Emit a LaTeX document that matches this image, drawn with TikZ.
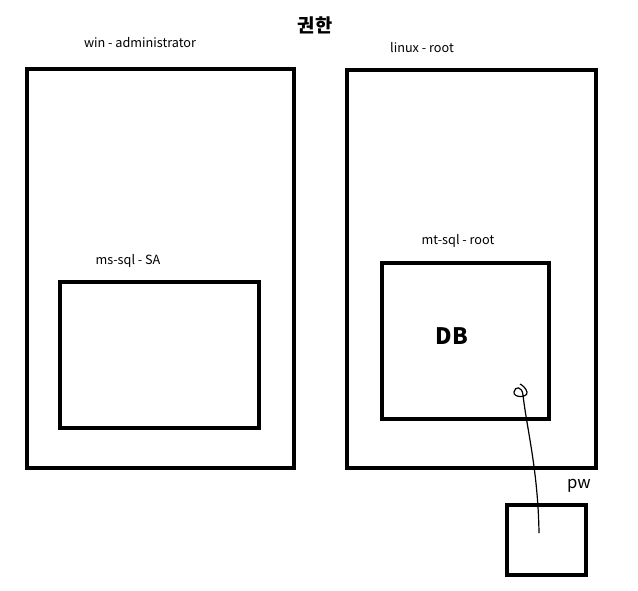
\documentclass[tikz,border=0pt]{standalone}
\usepackage{fontspec}
\setmainfont{Noto Sans CJK KR}
\usetikzlibrary{positioning}
\tikzset{
box/.style={draw, line width=3pt, inner sep=0pt}, % thick black frames
lbl/.style={font=\fontsize{9.5}{11}\selectfont, inner sep=0pt}, % small captions above the frames
}

\begin{document}
\begin{tikzpicture}[x=0.75pt, y=-0.75pt]
    \useasboundingbox (0,0) rectangle (638,590);
    \node[font=\fontsize{14}{16}\selectfont\bfseries, inner sep=0pt] (title) at (315,25) {권한};
    % left machine
    \node[box, minimum width=200.25pt, minimum height=299.25pt] (win) at (160.5,268.5) {};
    \node[box, minimum width=149.25pt, minimum height=109.5pt] (mssql) at (159.5,355) {};
    \node[lbl] (winlbl) at (140,43) {win - administrator};
    \node[lbl] (mssqllbl) at (128,261) {ms-sql - SA};
    % right machine
    \node[box, minimum width=186.75pt, minimum height=298.5pt] (linux) at (471.5,269) {};
    \node[box, minimum width=125.25pt, minimum height=117pt] (mtsql) at (465.5,341) {};
    \node[lbl] (linuxlbl) at (422,48) {linux - root};
    \node[lbl] (mtsqllbl) at (458,241) {mt-sql - root};
    \node[font=\fontsize{17}{19}\selectfont\bfseries, inner sep=0pt] (db) at (452,336) {DB};
    % password box
    \node[box, minimum width=59.25pt, minimum height=52.5pt] (pw) at (546.5,540) {};
    \node[font=\fontsize{12.5}{14}\selectfont, inner sep=0pt] (pwlbl) at (579,486) {pw};
    \coordinate (pwend) at (539,533);
    \coordinate (dbend) at (523,395);
    \draw[line width=0.9pt] (pwend) .. controls (538,470) and (527,430) .. (dbend)
      .. controls (522,386) and (515,386) .. (514,392)
      .. controls (513,398) and (528,398) .. (527,392)
      .. controls (526,388) and (522,385) .. (520,384);
\end{tikzpicture}
\end{document}
